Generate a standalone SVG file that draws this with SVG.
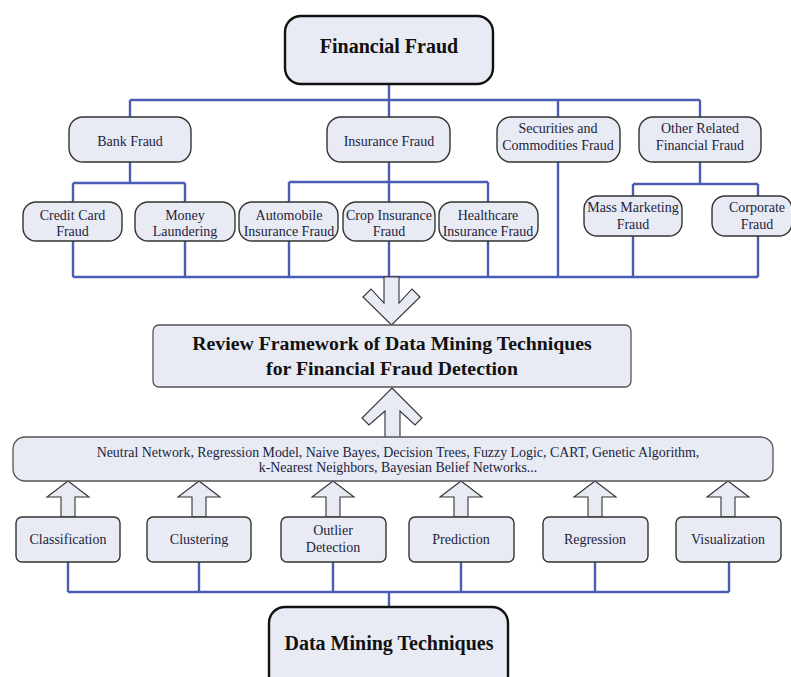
<svg xmlns="http://www.w3.org/2000/svg" width="791" height="677" viewBox="0 0 791 677">
<defs>
<style>
.main{fill:#e8ebf4;stroke:#111;stroke-width:2.4}
.node{fill:#e8ebf4;stroke:#333;stroke-width:1.4}
.rev{fill:#e8ebf4;stroke:#555;stroke-width:1.3}
.conn{fill:none;stroke:#4a5db5;stroke-width:2.4}
.barrow{fill:#e8ebf4;stroke:#333;stroke-width:1.1}
text{font-family:"Liberation Serif","Times New Roman",serif;fill:#1d1e3c;text-anchor:middle}
.big{font-size:20px;font-weight:bold;fill:#111}
.rv{font-size:19.8px;font-weight:bold;fill:#111}
.sm{font-size:14px}
.tc{font-size:13.9px}
</style>
</defs>
<rect width="791" height="677" fill="#fff"/>
<g id="connectors">
<path class="conn" d="M389 84V100M130 100H700M130 100V118M389 100V118M558 100V118M700 100V118"/>
<path class="conn" d="M130 162V183M73 183H185M73 183V202M185 183V202"/>
<path class="conn" d="M389 162V182M289 182H488M289 182V202M389 182V202M488 182V202"/>
<path class="conn" d="M700 162V184M633 184H758M633 184V196M758 184V196"/>
<path class="conn" d="M73 241V277M185 241V277M289 241V277M389 241V277M488 241V277M558 162V277M633 236V277M758 236V277M73 277H758"/>
<path class="conn" d="M68 562V592M199 562V592M333 562V592M461 562V592M595 562V592M729 562V592M68 592H729M389 592V607"/>
<polygon class="barrow" points="384,277 399,277 399,303 412,289 420,297 391.5,325 363,297 371,289 384,303"/>
<polygon class="barrow" points="392,388 422,418 415,425 400,411 400,438 385,438 385,411 369,425 362,418"/>
<polygon class="barrow" points="68,481 89,497 75,497 75,517 61,517 61,497 47,497"/>
<polygon class="barrow" points="199,481 220,497 206,497 206,517 192,517 192,497 178,497"/>
<polygon class="barrow" points="333,481 354,497 340,497 340,517 326,517 326,497 312,497"/>
<polygon class="barrow" points="461,481 482,497 468,497 468,517 454,517 454,497 440,497"/>
<polygon class="barrow" points="595,481 616,497 602,497 602,517 588,517 588,497 574,497"/>
<polygon class="barrow" points="728,481 749,497 735,497 735,517 721,517 721,497 707,497"/>
</g>
<g id="financial-fraud"><rect class="main" x="285" y="16" width="208" height="68" rx="16"/><text class="big" x="389" y="53">Financial Fraud</text></g>
<g id="bank-fraud"><rect class="node" x="69" y="117" width="122" height="45" rx="14"/><text class="sm" x="130" y="146">Bank Fraud</text></g>
<g id="insurance-fraud"><rect class="node" x="327" y="117" width="123" height="45" rx="14"/><text class="sm" x="389" y="146">Insurance Fraud</text></g>
<g id="securities-fraud"><rect class="node" x="497" y="117" width="123" height="45" rx="14"/><text class="sm" x="558" y="133">Securities and</text><text class="sm" x="558" y="150">Commodities Fraud</text></g>
<g id="other-fraud"><rect class="node" x="639" y="117" width="122" height="45" rx="14"/><text class="sm" x="700" y="133">Other Related</text><text class="sm" x="700" y="150">Financial Fraud</text></g>
<g id="credit-card"><rect class="node" x="23" y="202" width="99" height="39" rx="13"/><text class="sm" x="72.5" y="220">Credit Card</text><text class="sm" x="72.5" y="236">Fraud</text></g>
<g id="money-laundering"><rect class="node" x="135" y="202" width="100" height="39" rx="13"/><text class="sm" x="185" y="220">Money</text><text class="sm" x="185" y="236">Laundering</text></g>
<g id="automobile"><rect class="node" x="239" y="202" width="99" height="39" rx="13"/><text class="sm" x="289" y="220">Automobile</text><text class="sm" x="289" y="236">Insurance Fraud</text></g>
<g id="crop"><rect class="node" x="343" y="202" width="92" height="39" rx="13"/><text class="sm" x="389" y="220">Crop Insurance</text><text class="sm" x="389" y="236">Fraud</text></g>
<g id="healthcare"><rect class="node" x="439" y="202" width="99" height="39" rx="13"/><text class="sm" x="488" y="220">Healthcare</text><text class="sm" x="488" y="236">Insurance Fraud</text></g>
<g id="mass-marketing"><rect class="node" x="584" y="196" width="98" height="40" rx="13"/><text class="sm" x="633" y="212">Mass Marketing</text><text class="sm" x="633" y="229">Fraud</text></g>
<g id="corporate"><rect class="node" x="712" y="196" width="80" height="40" rx="13"/><text class="sm" x="757" y="212">Corporate</text><text class="sm" x="757" y="229">Fraud</text></g>
<g id="review"><rect class="rev" x="153" y="325" width="478" height="62" rx="6"/><text class="rv" x="392" y="350">Review Framework of Data Mining Techniques</text><text class="rv" x="392" y="375">for Financial Fraud Detection</text></g>
<g id="techniques"><rect class="rev" x="13" y="437" width="760" height="44" rx="12"/><text class="tc" x="398" y="457">Neutral Network, Regression Model, Naive Bayes, Decision Trees, Fuzzy Logic, CART, Genetic Algorithm,</text><text class="tc" x="398" y="472">k-Nearest Neighbors, Bayesian Belief Networks...</text></g>
<g id="classification"><rect class="node" x="16" y="517" width="104" height="45" rx="6"/><text class="sm" x="68" y="544">Classification</text></g>
<g id="clustering"><rect class="node" x="147" y="517" width="104" height="45" rx="6"/><text class="sm" x="199" y="544">Clustering</text></g>
<g id="outlier"><rect class="node" x="281" y="517" width="105" height="45" rx="6"/><text class="sm" x="333" y="535">Outlier</text><text class="sm" x="333" y="552">Detection</text></g>
<g id="prediction"><rect class="node" x="409" y="517" width="105" height="45" rx="6"/><text class="sm" x="461" y="544">Prediction</text></g>
<g id="regression"><rect class="node" x="543" y="517" width="105" height="45" rx="6"/><text class="sm" x="595" y="544">Regression</text></g>
<g id="visualization"><rect class="node" x="676" y="517" width="105" height="45" rx="6"/><text class="sm" x="728" y="544">Visualization</text></g>
<g id="data-mining"><rect class="main" x="269" y="607" width="239" height="90" rx="16"/><text class="big" x="389" y="650">Data Mining Techniques</text></g>
</svg>
